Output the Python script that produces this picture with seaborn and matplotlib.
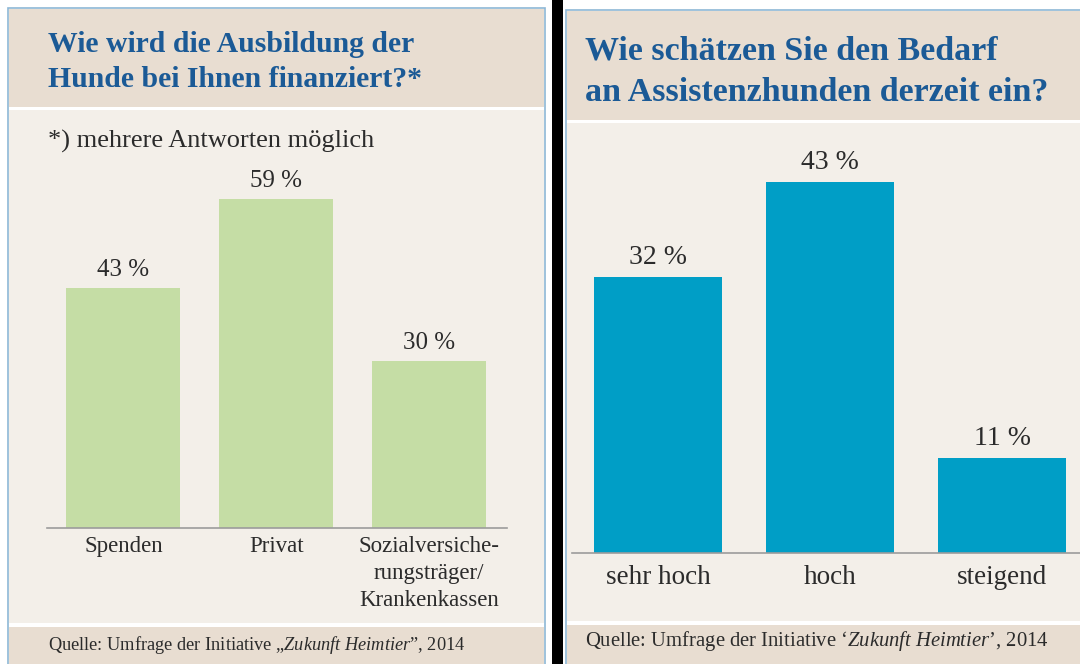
import matplotlib
matplotlib.use("Agg")
import matplotlib.pyplot as plt
from matplotlib.patches import Rectangle
import seaborn as sns

# ▒ Daten
finanz_kategorien = ["Spenden", "Privat", "Sozialversiche-\nrungsträger/\nKrankenkassen"]
finanz_anteile = [43, 59, 30]
bedarf_kategorien = ["sehr hoch", "hoch", "steigend"]
bedarf_anteile = [32, 43, 11]

titel_links = ["Wie wird die Ausbildung der", "Hunde bei Ihnen finanziert?*"]
titel_rechts = ["Wie schätzen Sie den Bedarf", "an Assistenzhunden derzeit ein?"]
fussnote = "*) mehrere Antworten möglich"
quelle_links = r"Quelle: Umfrage der Initiative „$\mathit{Zukunft\ Heimtier}$”, 2014"
quelle_rechts = r"Quelle: Umfrage der Initiative ‘$\mathit{Zukunft\ Heimtier}$’, 2014"

# ▒ Farben
KOPF = "#e8ddd1"
KOERPER = "#f3efe9"
RAHMEN = "#8db7d6"
TITEL = "#1b5a96"
TEXT = "#2b2b2b"
GRUEN = "#c5dda5"
BLAU = "#009ec6"

sns.set_theme(style="white")
plt.rcParams['font.family'] = ['Liberation Serif', 'DejaVu Serif']
plt.rcParams['mathtext.fontset'] = 'custom'
plt.rcParams['mathtext.rm'] = 'Liberation Serif'
plt.rcParams['mathtext.it'] = 'Liberation Serif:italic'

W, H = 1080, 664
fig = plt.figure(figsize=(W / 100, H / 100), dpi=100)
fig.patch.set_facecolor("white")


def fx(px):
    return px / W


def fy(py):
    return 1 - py / H


def box(x0, y0, x1, y1, fc, ec="none", lw=0):
    fig.add_artist(Rectangle((fx(x0), fy(y1)), (x1 - x0) / W, (y1 - y0) / H,
                             transform=fig.transFigure, facecolor=fc,
                             edgecolor=ec, linewidth=lw, zorder=0))


# ▶️ Hintergrund-Panels
# links
box(8, 8, 545, 670, "white", RAHMEN, 1.2)
box(9, 9, 544, 107, KOPF)
box(9, 110, 544, 623, KOERPER)
box(9, 627, 544, 670, KOPF)
# rechts
box(566, 10, 1090, 670, "white", RAHMEN, 1.2)
box(567, 11, 1090, 120, KOPF)
box(567, 123, 1090, 621, KOERPER)
box(567, 625, 1090, 670, KOPF)
# schwarzer Trenner
box(552, 0, 563, 670, "black")


def balken(pos, kategorien, werte, farbe, ylim, xmax, label_size, tick_size, pad):
    ax = fig.add_axes(pos)
    sns.barplot(x=kategorien, y=werte, color=farbe, saturation=1, width=0.745,
                linewidth=0, ax=ax)
    ax.set_facecolor("none")
    ax.set_xlim(-0.5, xmax)
    ax.set_ylim(*ylim)
    ax.set_yticks([])
    ax.set_ylabel("")
    for s in ["top", "left", "right"]:
        ax.spines[s].set_visible(False)
    ax.spines["bottom"].set_color("#9c9c9c")
    ax.spines["bottom"].set_linewidth(1.2)
    ax.tick_params(axis="x", length=0, pad=pad, labelsize=tick_size, labelcolor=TEXT)
    for lbl in ax.get_xticklabels():
        lbl.set_linespacing(1.38)
    ax.bar_label(ax.containers[0], labels=[f"{v} %" for v in werte],
                 padding=5, fontsize=label_size, color=TEXT)
    return ax


balken([fx(47), fy(528), 460 / W, 368 / H], finanz_kategorien, finanz_anteile,
       GRUEN, (0, 66), 2.51, 18, 16.5, 6)
balken([fx(572), fy(553), 508 / W, 414 / H], bedarf_kategorien, bedarf_anteile,
       BLAU, (0, 48), 2.453, 20, 19.5, 9)

# ▒ Titel
for i, zeile in enumerate(titel_links):
    fig.text(fx(48), fy(52 + i * 35), zeile, fontsize=21.4, fontweight="bold",
             color=TITEL, va="baseline")
for i, zeile in enumerate(titel_rechts):
    fig.text(fx(585), fy(60 + i * 41), zeile, fontsize=24.5, fontweight="bold",
             color=TITEL, va="baseline")

fig.text(fx(48), fy(148), fussnote, fontsize=19, color=TEXT, va="baseline")

# ▒ Quelle
fig.text(fx(48), fy(650), quelle_links, fontsize=13.2, color=TEXT, va="baseline")
fig.text(fx(585), fy(646), quelle_rechts, fontsize=14.9, color=TEXT, va="baseline")

fig.savefig("out.png", dpi=100)
